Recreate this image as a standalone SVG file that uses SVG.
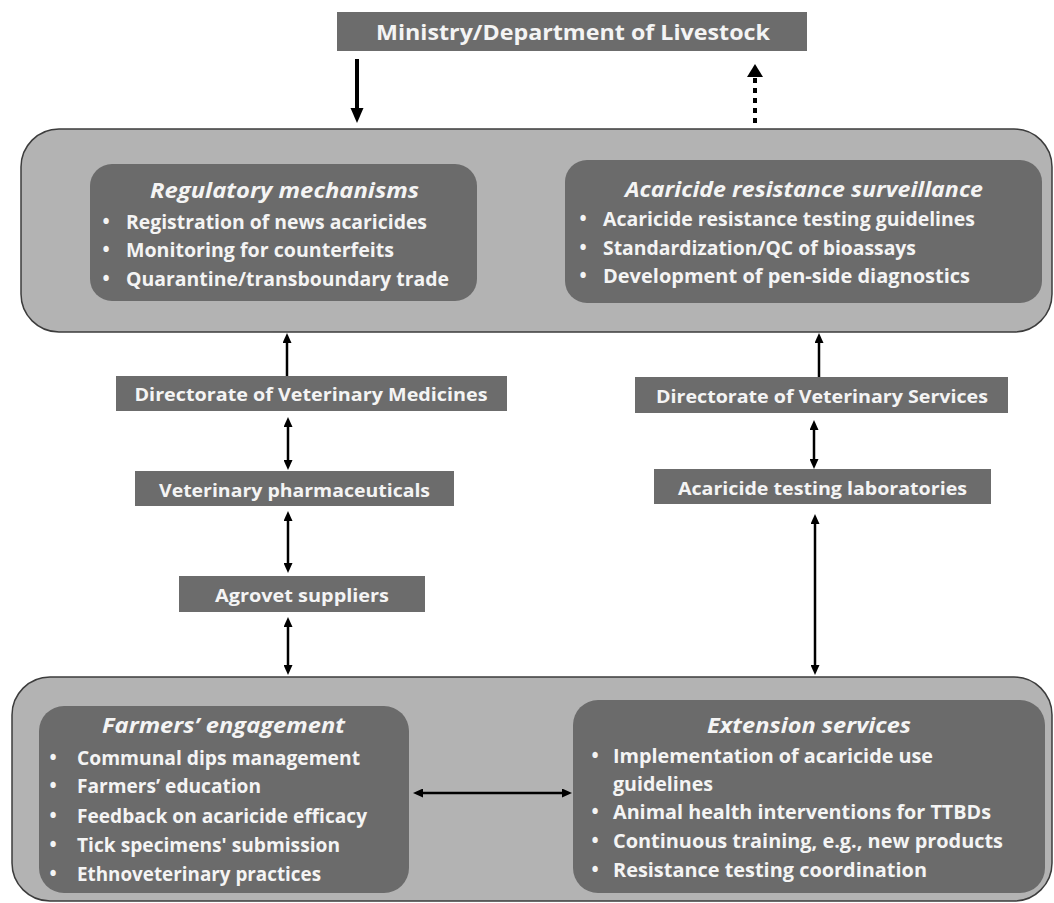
<svg xmlns="http://www.w3.org/2000/svg" width="1054" height="903" viewBox="0 0 1054 903">
<style>
.outer{fill:#b3b3b3;stroke:#3c3c3c;stroke-width:1.5}
.inner{fill:#6b6b6b}
.lbl{fill:#6c6c6c}
text{font-family:"Open Sans","Noto Sans","Liberation Sans",sans-serif;font-weight:bold;fill:#f4f4f4}
.t{font-size:21.5px;font-style:italic}
.b{font-size:19.5px}
.s{font-size:18.5px}
.m{font-size:20.5px}
.dot{font-size:19px}
.c{stroke:#000;stroke-width:2.5;fill:none}
</style>
<defs>
<marker id="ah" markerUnits="userSpaceOnUse" viewBox="0 0 10 9" markerWidth="10" markerHeight="9" refX="2" refY="4.5" orient="auto-start-reverse">
<path d="M0,0 L10,4.5 L0,9 z" fill="#000"/>
</marker>
</defs>
<rect width="1054" height="903" fill="#fff"/>

<g id="ministry">
<rect class="lbl" x="337" y="12" width="470" height="39"/>
<text class="m" x="573" y="40" text-anchor="middle" textLength="394" lengthAdjust="spacingAndGlyphs">Ministry/Department of  Livestock</text>
</g>

<g id="top-panel">
<rect class="outer" x="21" y="129" width="1031" height="203" rx="38"/>
</g>

<g id="regulatory">
<rect class="inner" x="90" y="164" width="387" height="137" rx="22"/>
<text class="t" x="284.5" y="198" text-anchor="middle" textLength="269" lengthAdjust="spacingAndGlyphs">Regulatory mechanisms</text>
<text class="dot" x="106" y="228" text-anchor="middle">•</text>
<text class="b" x="126" y="229" textLength="301" lengthAdjust="spacingAndGlyphs">Registration of news acaricides</text>
<text class="dot" x="106" y="256" text-anchor="middle">•</text>
<text class="b" x="126" y="257" textLength="268" lengthAdjust="spacingAndGlyphs">Monitoring for counterfeits</text>
<text class="dot" x="106" y="285" text-anchor="middle">•</text>
<text class="b" x="126" y="286" textLength="323" lengthAdjust="spacingAndGlyphs">Quarantine/transboundary trade</text>
</g>

<g id="surveillance">
<rect class="inner" x="565" y="160" width="477" height="143" rx="22"/>
<text class="t" x="804" y="197" text-anchor="middle" textLength="358" lengthAdjust="spacingAndGlyphs">Acaricide resistance surveillance</text>
<text class="dot" x="583" y="225" text-anchor="middle">•</text>
<text class="b" x="603" y="226" textLength="372" lengthAdjust="spacingAndGlyphs">Acaricide resistance  testing guidelines</text>
<text class="dot" x="583" y="254" text-anchor="middle">•</text>
<text class="b" x="603" y="255" textLength="313" lengthAdjust="spacingAndGlyphs">Standardization/QC of bioassays</text>
<text class="dot" x="583" y="282" text-anchor="middle">•</text>
<text class="b" x="603" y="283" textLength="367" lengthAdjust="spacingAndGlyphs">Development of pen-side diagnostics</text>
</g>

<g id="dvm">
<rect class="lbl" x="116" y="376" width="391" height="35"/>
<text class="s" x="311" y="401" text-anchor="middle" textLength="353" lengthAdjust="spacingAndGlyphs">Directorate of Veterinary Medicines</text>
</g>
<g id="vetpharm">
<rect class="lbl" x="135" y="471" width="319" height="35"/>
<text class="s" x="294.5" y="497" text-anchor="middle" textLength="271" lengthAdjust="spacingAndGlyphs">Veterinary pharmaceuticals</text>
</g>
<g id="agrovet">
<rect class="lbl" x="179" y="576" width="246" height="36"/>
<text class="s" x="302" y="602" text-anchor="middle" textLength="174" lengthAdjust="spacingAndGlyphs">Agrovet suppliers</text>
</g>
<g id="dvs">
<rect class="lbl" x="635" y="377" width="373" height="36"/>
<text class="s" x="822" y="403" text-anchor="middle" textLength="332" lengthAdjust="spacingAndGlyphs">Directorate of Veterinary Services</text>
</g>
<g id="labs">
<rect class="lbl" x="654" y="469" width="337" height="35"/>
<text class="s" x="822.5" y="495" text-anchor="middle" textLength="289" lengthAdjust="spacingAndGlyphs">Acaricide  testing laboratories</text>
</g>

<g id="bottom-panel">
<rect class="outer" x="12" y="677" width="1040" height="224" rx="38"/>
</g>

<g id="farmers">
<rect class="inner" x="39" y="706" width="370" height="187" rx="25"/>
<text class="t" x="223.5" y="733" text-anchor="middle" textLength="243" lengthAdjust="spacingAndGlyphs">Farmers’ engagement</text>
<text class="dot" x="53" y="764" text-anchor="middle">•</text>
<text class="b" x="77" y="765" textLength="283" lengthAdjust="spacingAndGlyphs">Communal dips management</text>
<text class="dot" x="53" y="792" text-anchor="middle">•</text>
<text class="b" x="77" y="793" textLength="184" lengthAdjust="spacingAndGlyphs">Farmers’ education</text>
<text class="dot" x="53" y="822" text-anchor="middle">•</text>
<text class="b" x="77" y="823" textLength="290" lengthAdjust="spacingAndGlyphs">Feedback on acaricide efficacy</text>
<text class="dot" x="53" y="851" text-anchor="middle">•</text>
<text class="b" x="77" y="852" textLength="263" lengthAdjust="spacingAndGlyphs">Tick specimens' submission</text>
<text class="dot" x="53" y="880" text-anchor="middle">•</text>
<text class="b" x="77" y="881" textLength="244" lengthAdjust="spacingAndGlyphs">Ethnoveterinary practices</text>
</g>

<g id="extension">
<rect class="inner" x="573" y="700" width="472" height="193" rx="25"/>
<text class="t" x="809" y="733" text-anchor="middle" textLength="204" lengthAdjust="spacingAndGlyphs">Extension services</text>
<text class="dot" x="595" y="762" text-anchor="middle">•</text>
<text class="b" x="613" y="763" textLength="320" lengthAdjust="spacingAndGlyphs">Implementation of acaricide use</text>
<text class="b" x="613" y="791" textLength="100" lengthAdjust="spacingAndGlyphs">guidelines</text>
<text class="dot" x="595" y="818" text-anchor="middle">•</text>
<text class="b" x="613" y="819" textLength="378" lengthAdjust="spacingAndGlyphs">Animal health interventions for TTBDs</text>
<text class="dot" x="595" y="847" text-anchor="middle">•</text>
<text class="b" x="613" y="848" textLength="390" lengthAdjust="spacingAndGlyphs">Continuous training, e.g., new products</text>
<text class="dot" x="595" y="876" text-anchor="middle">•</text>
<text class="b" x="613" y="877" textLength="314" lengthAdjust="spacingAndGlyphs">Resistance  testing coordination</text>
</g>

<g id="connectors">
<line x1="357" y1="59" x2="357" y2="110" stroke="#000" stroke-width="4"/>
<polygon points="350.5,108 363.5,108 357,123" fill="#000"/>
<line x1="755" y1="123" x2="755" y2="78" stroke="#000" stroke-width="4" stroke-dasharray="5,5"/>
<polygon points="747,77 763,77 755,64" fill="#000"/>
<path class="c" d="M287,376 L287,341" marker-end="url(#ah)"/>
<path class="c" d="M288,425 L288,462" marker-start="url(#ah)" marker-end="url(#ah)"/>
<path class="c" d="M288,519 L288,565" marker-start="url(#ah)" marker-end="url(#ah)"/>
<path class="c" d="M288,625 L288,667" marker-start="url(#ah)" marker-end="url(#ah)"/>
<path class="c" d="M819,377 L819,341" marker-end="url(#ah)"/>
<path class="c" d="M814,428 L814,461" marker-start="url(#ah)" marker-end="url(#ah)"/>
<path class="c" d="M815,522 L815,667" marker-start="url(#ah)" marker-end="url(#ah)"/>
<path class="c" d="M421,793 L564,793" marker-start="url(#ah)" marker-end="url(#ah)"/>
</g>
</svg>
